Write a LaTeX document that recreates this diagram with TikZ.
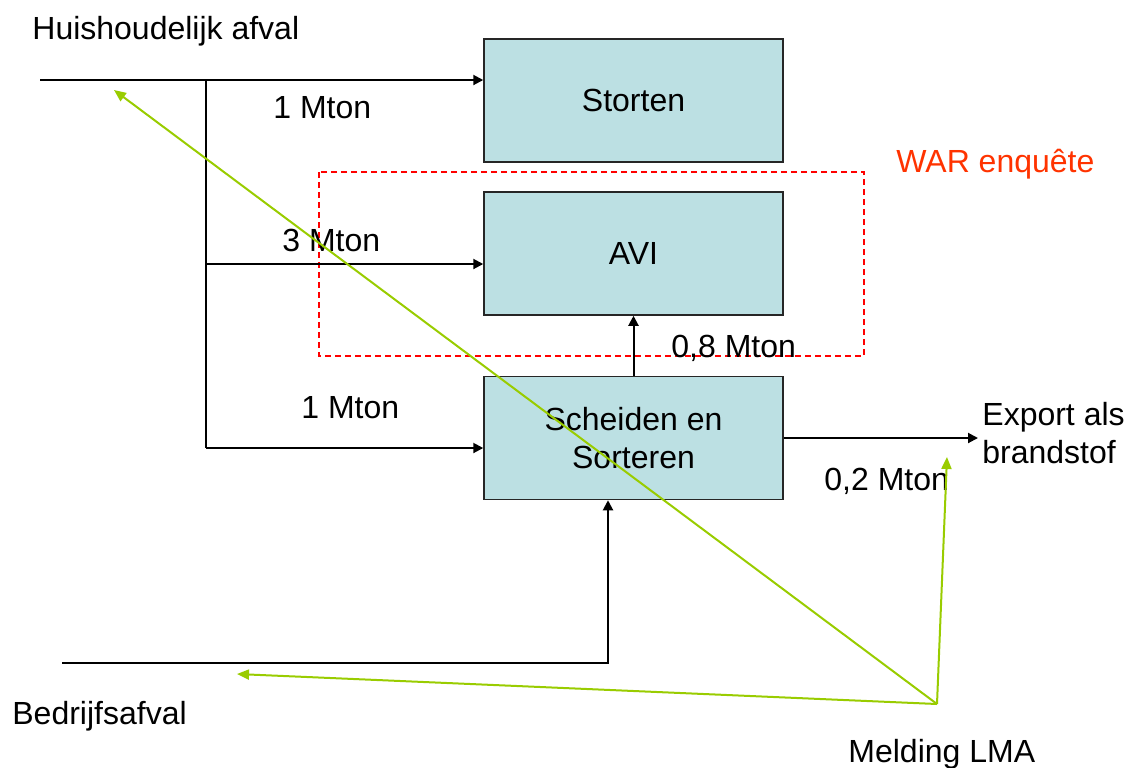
\documentclass[tikz,border=0pt]{standalone}
\usepackage{fontspec}
\setmainfont{Liberation Sans}
\usetikzlibrary{arrows.meta}

\definecolor{boxblue}{RGB}{188,224,227}
\definecolor{lmagreen}{RGB}{153,204,0}
\definecolor{warred}{RGB}{255,51,0}

\begin{document}
\begin{tikzpicture}[x=0.5pt,y=-0.5pt,
    font=\fontsize{16}{19}\selectfont,
    proces/.style={draw=black!85,line width=0.75pt,fill=boxblue,
        minimum width=149.5pt,minimum height=61.5pt,inner sep=0pt,align=center},
    label/.style={anchor=base west,inner sep=0pt},
    flow/.style={line width=1pt,-{Triangle[length=5pt,width=5pt]}},
    melding/.style={lmagreen,line width=1pt,-{Triangle[length=6pt,width=5pt]}}]
              \useasboundingbox (0,0) rectangle (1130,767);

              \node[proces] (storten) at (633.5,100.5) {Storten};
              \node[proces] (avi) at (633.5,253.5) {AVI};
              \node[proces] (scheiden) at (633.5,438) {Scheiden en\\Sorteren};

              \draw[red,dashed,line width=0.6pt,dash pattern=on 3pt off 2pt]
                  (319,172) rectangle (864,356);
              \node[label,warred] (war) at (896,172) {WAR enquête};

              \node[label] (huis) at (32,39) {Huishoudelijk afval};
              \node[label] (bedrijf) at (12,724) {Bedrijfsafval};
              \node[label] (lmatext) at (848,762) {Melding LMA};
              \node[anchor=north west,inner sep=0pt,align=left] (export) at (982,402) {Export als\\brandstof};

              \node[label] (m1) at (273,118) {1 Mton};
              \node[label] (m3) at (282,251) {3 Mton};
              \node[label] (m1b) at (301,418) {1 Mton};
              \node[label] (m08) at (671,357) {0,8 Mton};
              \node[label] (m02) at (824,490) {0,2 Mton};

              \coordinate (hin) at (40,80);
              \coordinate (j1) at (206,80);
              \coordinate (j2) at (206,264);
              \coordinate (j3) at (206,448);
              \coordinate (bin) at (62,663);
              \coordinate (bhoek) at (608,663);

              \begin{scope}[line width=1pt]
                  \draw[flow] (hin) -- (hin -| storten.west);
                  \draw (j1) -- (j3);
                  \draw[flow] (j2) -- (j2 -| avi.west);
                  \draw[flow] (j3) -- (j3 -| scheiden.west);
                  \draw[flow] (scheiden.north) -- (avi.south);
                  \draw[flow] (scheiden.east) -- ([xshift=-2pt]scheiden.east -| export.west);
                  \draw[flow] (bin) -- (bhoek) -- (bhoek |- scheiden.south);
              \end{scope}

              \coordinate (lma) at (937,704);
              \coordinate (pijl1) at (114,90);
              \coordinate (pijl2) at (237,674);
              \coordinate (pijl3) at (947,457);
              \draw[melding] (lma) -- (pijl1);
              \draw[melding] (lma) -- (pijl2);
              \draw[melding] (lma) -- (pijl3);

          \end{tikzpicture}
\end{document}
